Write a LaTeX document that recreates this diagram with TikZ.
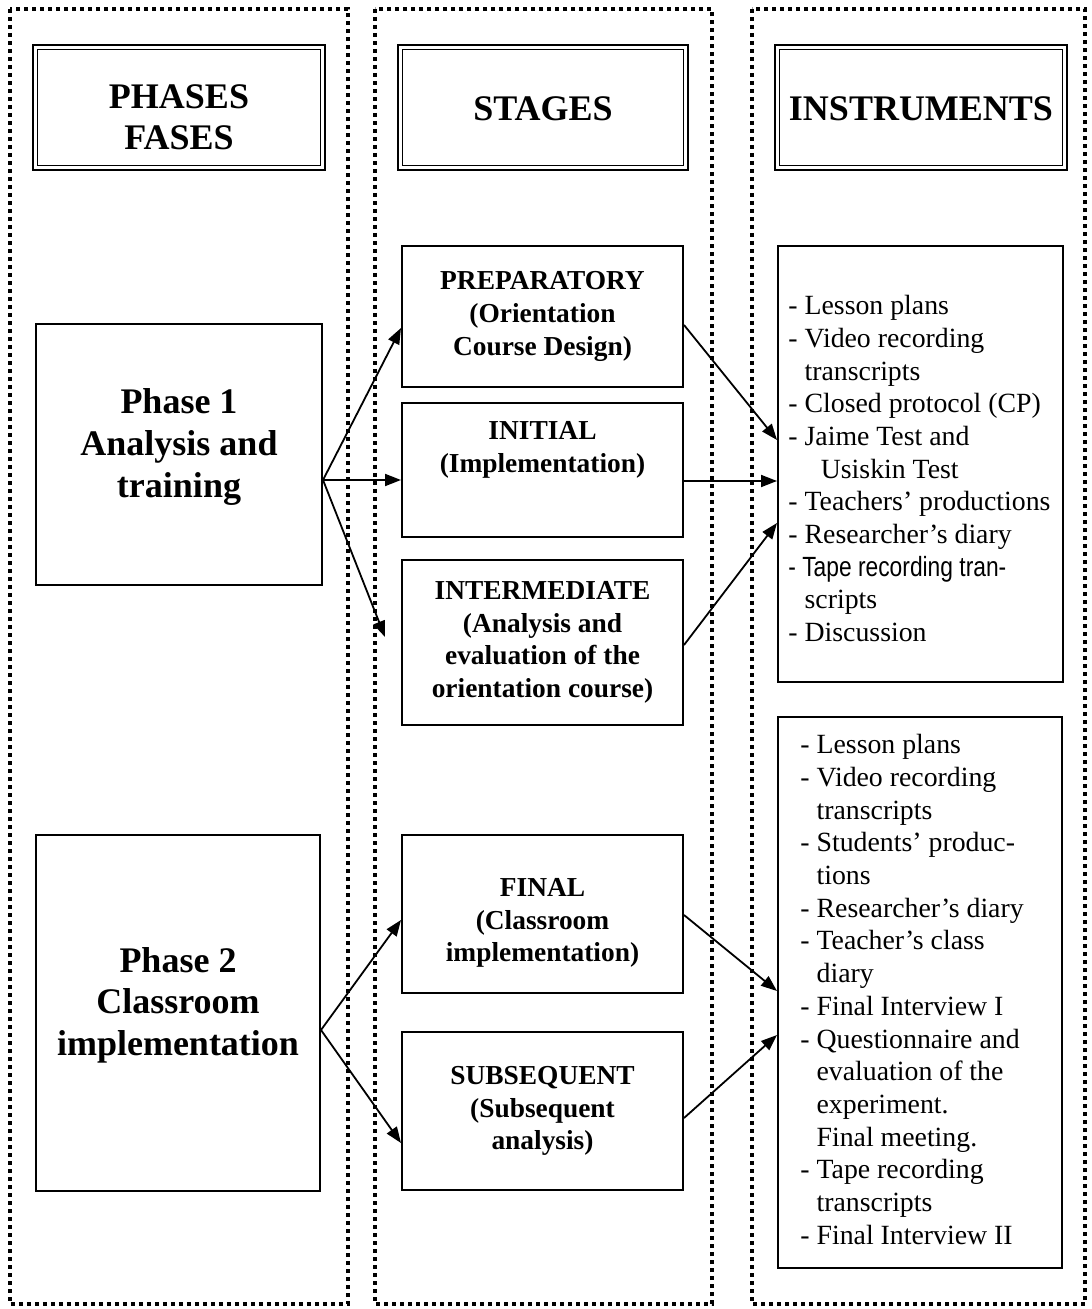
\documentclass[tikz,border=0pt]{standalone}
\usepackage{fontspec}
\setmainfont{Liberation Serif}
\newfontfamily\narrowsans[FakeStretch=0.82]{Liberation Sans}
\usetikzlibrary{arrows.meta}
\begin{document}
\begin{tikzpicture}[x=0.5pt,y=-0.5pt,
  frame/.style={line width=1.8pt, dash pattern=on 1.8pt off 2.2pt},
  hdrbox/.style={draw, line width=1.3pt, minimum width=146pt, minimum height=62.5pt, inner sep=0pt},
  hdrinner/.style={line width=0.7pt},
  hdrtxt/.style={font=\fontsize{18}{20.5}\selectfont\bfseries, align=center, inner sep=0pt},
  phbox/.style={draw, line width=1pt, minimum width=143pt, inner sep=0pt},
  phtxt/.style={font=\fontsize{18}{20.8}\selectfont\bfseries, align=center, inner sep=0pt},
  stbox/.style={draw, line width=1pt, minimum width=140.5pt, align=center, inner sep=0pt, font=\fontsize{13.7}{16.3}\selectfont\bfseries},
  sttxt/.style={align=center, inner sep=0pt, font=\fontsize{13.7}{16.3}\selectfont\bfseries},
  inbox/.style={draw, line width=1pt, inner sep=0pt},
  intxt/.style={font=\fontsize{13.9}{16.35}\selectfont, align=left, inner sep=0pt, anchor=north west},
  arr/.style={line width=0.9pt, -{Triangle[length=8pt,width=6pt]}},
]
\fill[white] (0,0) rectangle (1091,1309);
\useasboundingbox (0,0) rectangle (1091,1309);

% dotted column frames
\draw[frame] (10,9) rectangle (348,1304);
\draw[frame] (375,9) rectangle (712,1304);
\draw[frame] (752,9) rectangle (1085,1304);

% headers
\node[hdrbox] (hPh) at (179,107.5) {};
\draw[hdrinner] ([shift={(3pt,-3pt)}]hPh.north west) rectangle ([shift={(-3pt,3pt)}]hPh.south east);
\node[hdrtxt] (tPh) at (179,117) {PHASES\\FASES};

\node[hdrbox, minimum width=145pt] (hSt) at (543,107.5) {};
\draw[hdrinner] ([shift={(3pt,-3pt)}]hSt.north west) rectangle ([shift={(-3pt,3pt)}]hSt.south east);
\node[hdrtxt] (tSt) at (543,109) {STAGES};

\node[hdrbox] (hIn) at (921,107.5) {};
\draw[hdrinner] ([shift={(3pt,-3pt)}]hIn.north west) rectangle ([shift={(-3pt,3pt)}]hIn.south east);
\node[hdrtxt] (tIn) at (921,109) {INSTRUMENTS};

% phases
\node[phbox, minimum height=130.5pt] (ph1) at (179,454.5) {};
\node[phtxt] (ph1t) at (179,447) {Phase 1\\Analysis and\\training};
\node[phbox, minimum width=142pt, minimum height=178pt] (ph2) at (178,1013) {};
\node[phtxt] (ph2t) at (178,1005) {Phase 2\\Classroom\\implementation};

% stages
\node[stbox, minimum height=70.5pt] (prep) at (542.5,316.5) {PREPARATORY\\(Orientation\\Course Design)};
\node[stbox, minimum height=67pt] (init) at (542.5,470) {};
\node[sttxt] (initT) at (542.5,450) {INITIAL\\(Implementation)};
\node[stbox, minimum height=82.5pt] (inter) at (542.5,642.5) {INTERMEDIATE\\(Analysis and\\evaluation of the\\orientation course)};
\node[stbox, minimum height=79pt] (final) at (542.5,914) {};
\node[sttxt] (finalT) at (542.5,923) {FINAL\\(Classroom\\implementation)};
\node[stbox, minimum height=79pt] (subs) at (542.5,1111) {SUBSEQUENT\\(Subsequent\\analysis)};

% instruments
\node[inbox, minimum width=142.5pt, minimum height=218pt] (in1) at (920.5,464) {};
\node[intxt] (in1t) at (788,295) {- Lesson plans\\
- Video recording\\
\phantom{- }transcripts\\
- Closed protocol (CP)\\
- Jaime Test and\\
\phantom{- - }Usiskin Test\\
- Teachers’ productions\\
- Researcher’s diary\\
{\narrowsans - Tape recording tran-}\\
\phantom{- }scripts\\
- Discussion};

\node[inbox, minimum width=142pt, minimum height=275.5pt] (in2) at (920,992.5) {};
\node[intxt] (in2t) at (800,734) {- Lesson plans\\
- Video recording\\
\phantom{- }transcripts\\
- Students’ produc-\\
\phantom{- }tions\\
- Researcher’s diary\\
- Teacher’s class\\
\phantom{- }diary\\
- Final Interview I\\
- Questionnaire and\\
\phantom{- }evaluation of the\\
\phantom{- }experiment.\\
\phantom{- }Final meeting.\\
- Tape recording\\
\phantom{- }transcripts\\
- Final Interview II};

% connectors
\coordinate (interIn) at (385,637);
\draw[arr] (ph1.east |- 0,480) -- (prep.west |- 0,328);
\draw[arr] (ph1.east |- 0,480) -- (init.west |- 0,480);
\draw[arr] (ph1.east |- 0,480) -- (interIn);
\draw[arr] (prep.east |- 0,325) -- (in1.west |- 0,440);
\draw[arr] (init.east |- 0,481) -- (in1.west |- 0,481);
\draw[arr] (inter.east |- 0,645) -- (in1.west |- 0,523);
\draw[arr] (ph2.east |- 0,1030) -- (final.west |- 0,920);
\draw[arr] (ph2.east |- 0,1030) -- (subs.west |- 0,1143);
\draw[arr] (final.east |- 0,915) -- (in2.west |- 0,991);
\draw[arr] (subs.east |- 0,1118) -- (in2.west |- 0,1035);
\end{tikzpicture}
\end{document}
